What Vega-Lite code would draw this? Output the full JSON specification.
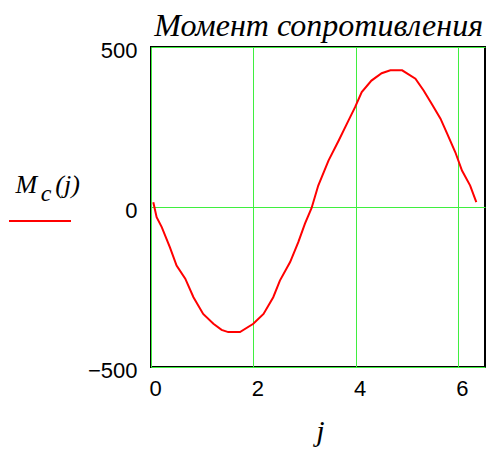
{
  "$schema": "https://vega.github.io/schema/vega-lite/v6.json",
  "width": 334,
  "height": 320,
  "autosize": {"type": "none"},
  "padding": {"left": 151, "top": 47, "right": 2, "bottom": 83},
  "background": "white",
  "title": {
    "text": "Момент сопротивления",
    "anchor": "end",
    "frame": "group",
    "font": "Liberation Serif",
    "fontStyle": "italic",
    "fontWeight": "normal",
    "fontSize": 32,
    "color": "black",
    "offset": -3,
    "dx": -2
  },
  "data": {
    "values": [
      {"j": 0.045, "M": 15, "s": "Mc"},
      {"j": 0.11, "M": -32, "s": "Mc"},
      {"j": 0.21, "M": -63, "s": "Mc"},
      {"j": 0.37, "M": -126, "s": "Mc"},
      {"j": 0.5, "M": -183, "s": "Mc"},
      {"j": 0.67, "M": -224, "s": "Mc"},
      {"j": 0.83, "M": -282, "s": "Mc"},
      {"j": 1.02, "M": -334, "s": "Mc"},
      {"j": 1.22, "M": -365, "s": "Mc"},
      {"j": 1.38, "M": -384, "s": "Mc"},
      {"j": 1.51, "M": -391, "s": "Mc"},
      {"j": 1.74, "M": -391, "s": "Mc"},
      {"j": 2.0, "M": -365, "s": "Mc"},
      {"j": 2.2, "M": -334, "s": "Mc"},
      {"j": 2.39, "M": -282, "s": "Mc"},
      {"j": 2.52, "M": -230, "s": "Mc"},
      {"j": 2.72, "M": -172, "s": "Mc"},
      {"j": 2.88, "M": -110, "s": "Mc"},
      {"j": 3.01, "M": -52, "s": "Mc"},
      {"j": 3.14, "M": -3, "s": "Mc"},
      {"j": 3.27, "M": 67, "s": "Mc"},
      {"j": 3.47, "M": 145, "s": "Mc"},
      {"j": 3.67, "M": 208, "s": "Mc"},
      {"j": 3.86, "M": 270, "s": "Mc"},
      {"j": 3.99, "M": 312, "s": "Mc"},
      {"j": 4.12, "M": 359, "s": "Mc"},
      {"j": 4.31, "M": 395, "s": "Mc"},
      {"j": 4.51, "M": 418, "s": "Mc"},
      {"j": 4.68, "M": 427, "s": "Mc"},
      {"j": 4.91, "M": 427, "s": "Mc"},
      {"j": 5.17, "M": 401, "s": "Mc"},
      {"j": 5.33, "M": 364, "s": "Mc"},
      {"j": 5.49, "M": 322, "s": "Mc"},
      {"j": 5.66, "M": 276, "s": "Mc"},
      {"j": 5.79, "M": 229, "s": "Mc"},
      {"j": 5.95, "M": 171, "s": "Mc"},
      {"j": 6.08, "M": 114, "s": "Mc"},
      {"j": 6.24, "M": 67, "s": "Mc"},
      {"j": 6.36, "M": 15, "s": "Mc"}
    ]
  },
  "mark": {"type": "line", "strokeWidth": 2, "interpolate": "linear"},
  "encoding": {
    "x": {
      "field": "j",
      "type": "quantitative",
      "scale": {"domain": [0, 6.53], "nice": false, "zero": false},
      "axis": {
        "values": [0, 2, 4, 6],
        "title": "j",
        "titleFont": "Liberation Serif",
        "titleFontStyle": "italic",
        "titleFontWeight": "normal",
        "titleFontSize": 30,
        "titleColor": "black",
        "titleAlign": "center",
        "titleBaseline": "alphabetic",
        "titleX": 169,
        "titleY": 73,
        "labelFont": "Liberation Sans",
        "labelFontSize": 22,
        "labelColor": "black",
        "labelBaseline": "top",
        "labelPadding": 11,
        "labelOffset": 4,
        "labelFlush": false
      }
    },
    "y": {
      "field": "M",
      "type": "quantitative",
      "scale": {"domain": [-500, 500], "nice": false},
      "axis": {
        "values": [-500, 0, 500],
        "title": "M\u00a0\u00a0\u2009(j)",
        "titleFont": "Liberation Serif",
        "titleFontStyle": "italic",
        "titleFontWeight": "normal",
        "titleFontSize": 26,
        "titleColor": "black",
        "titleAngle": 0,
        "titleAlign": "left",
        "titleBaseline": "alphabetic",
        "titleX": -136,
        "titleY": 145,
        "labelFont": "Liberation Sans",
        "labelFontSize": 22,
        "labelColor": "black",
        "labelPadding": 14,
        "labelOffset": 3.5,
        "labelFlush": false
      }
    },
    "color": {
      "field": "s",
      "type": "nominal",
      "scale": {"range": ["#ff0000"]},
      "legend": {
        "orient": "none",
        "legendX": -143,
        "legendY": 135,
        "title": "c",
        "titleFont": "Liberation Serif",
        "titleFontStyle": "italic",
        "titleFontWeight": "normal",
        "titleFontSize": 24,
        "titleColor": "black",
        "titleAnchor": "middle",
        "titleAlign": "center",
        "titlePadding": -17,
        "symbolType": "stroke",
        "symbolSize": 3844,
        "symbolStrokeWidth": 2,
        "labelExpr": "''",
        "labelOffset": 12,
        "padding": 0
      }
    }
  },
  "config": {
    "view": {"stroke": "black", "strokeWidth": 2},
    "axis": {
      "domain": false,
      "ticks": false,
      "grid": true,
      "gridColor": "#3fef3f",
      "gridWidth": 1,
      "gridOpacity": 1
    }
  }
}
